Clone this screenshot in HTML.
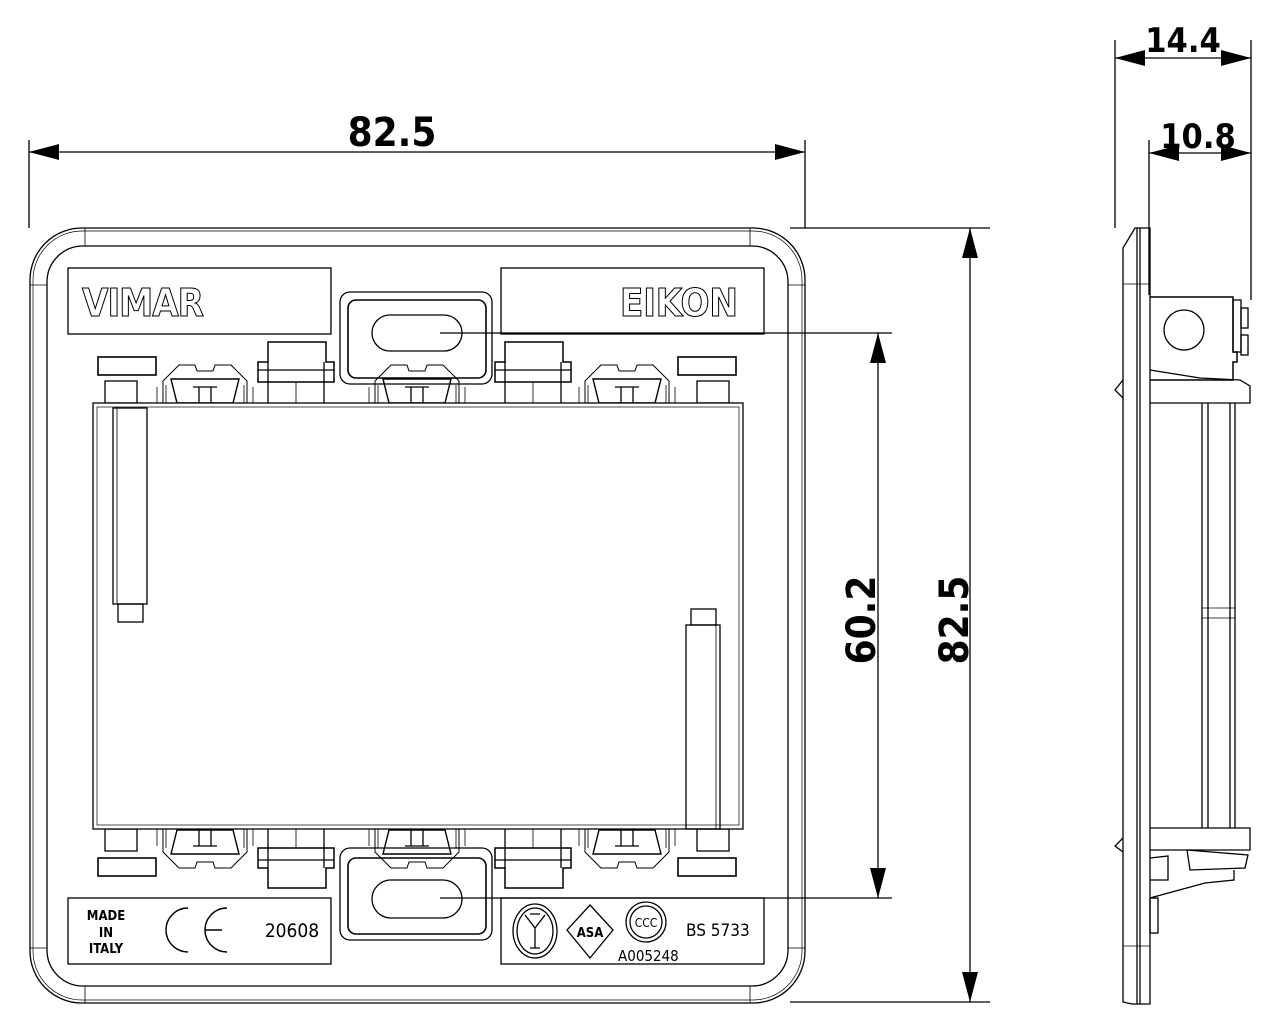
<!DOCTYPE html>
<html><head><meta charset="utf-8"><style>
html,body{margin:0;padding:0;background:#fff;}
svg{display:block;}
text{font-family:"DejaVu Sans Condensed","Liberation Sans",sans-serif;}
</style></head><body>
<svg width="1280" height="1024" viewBox="0 0 1280 1024" xmlns="http://www.w3.org/2000/svg" fill="none" stroke="#000" stroke-width="1.3">
<defs>
<path id="arr" d="M0 0 L30 -8 L30 8 Z" fill="#000" stroke="none"/>
<g id="clip">
 <path d="M0 24 L16 8 L32 8 L34 14 L50 14 L52 8 L68 8 L84 24 L84 48 L0 48 Z" stroke-width="1"/>
 <path d="M8 22 L76 22 L70 46 L14 46 Z" stroke-width="1.4"/>
 <line x1="30" y1="30" x2="54" y2="30"/><line x1="36" y1="30" x2="36" y2="46"/><line x1="48" y1="30" x2="48" y2="46"/>
 <line x1="3" y1="28" x2="3" y2="48" stroke-width="0.8"/><line x1="81" y1="28" x2="81" y2="48" stroke-width="0.8"/>
 <line x1="-6" y1="30" x2="-6" y2="48" stroke-width="0.8"/><line x1="90" y1="30" x2="90" y2="48" stroke-width="0.8"/>
</g>
<g id="blk">
 <path d="M10 0 L68 0 L68 20 L76 20 L76 40 L0 40 L0 20 L10 20 Z" stroke-width="1.5"/>
 <line x1="0" y1="28" x2="76" y2="28"/><line x1="10" y1="20" x2="10" y2="40"/><line x1="66" y1="20" x2="66" y2="40"/>
 <line x1="10" y1="40" x2="10" y2="62"/><line x1="66" y1="40" x2="66" y2="62"/><line x1="38" y1="40" x2="38" y2="62" stroke-width="0.8"/>
</g>
</defs>

<g fill="#000" stroke="none" font-weight="bold" text-anchor="middle" font-size="40">
<text x="392" y="146">82.5</text>
<text transform="translate(968 620) rotate(-90)">82.5</text>
<text transform="translate(875 620) rotate(-90)">60.2</text>
<text x="1183" y="52" font-size="34">14.4</text>
<text x="1198" y="148" font-size="34">10.8</text>
</g>

<!-- dimension 82.5 top -->
<line x1="29" y1="140" x2="29" y2="228"/><line x1="805" y1="140" x2="805" y2="228"/>
<line x1="29" y1="152" x2="805" y2="152"/>
<use href="#arr" x="29" y="152"/><use href="#arr" transform="translate(805 152) rotate(180)"/>

<!-- 82.5 right -->
<line x1="790" y1="228" x2="990" y2="228"/><line x1="790" y1="1002" x2="990" y2="1002"/>
<line x1="970" y1="228" x2="970" y2="1002"/>
<use href="#arr" transform="translate(970 228) rotate(90)"/><use href="#arr" transform="translate(970 1002) rotate(-90)"/>

<!-- 60.2 -->
<line x1="440" y1="333" x2="892" y2="333"/><line x1="440" y1="898" x2="892" y2="898"/>
<line x1="878" y1="333" x2="878" y2="898"/>
<use href="#arr" transform="translate(878 333) rotate(90)"/><use href="#arr" transform="translate(878 898) rotate(-90)"/>

<!-- plate -->
<rect x="30" y="228" width="775" height="775" rx="52"/>
<rect x="33" y="231" width="769" height="769" rx="49" stroke-width="0.7"/>
<rect x="47" y="246" width="741" height="740" rx="36"/>
<line x1="85" y1="228" x2="85" y2="246" stroke-width="0.8"/><line x1="750" y1="228" x2="750" y2="246" stroke-width="0.8"/>
<line x1="85" y1="986" x2="85" y2="1003" stroke-width="0.8"/><line x1="750" y1="986" x2="750" y2="1003" stroke-width="0.8"/>
<line x1="30" y1="285" x2="47" y2="285" stroke-width="0.8"/><line x1="788" y1="285" x2="805" y2="285" stroke-width="0.8"/>
<line x1="30" y1="948" x2="47" y2="948" stroke-width="0.8"/><line x1="788" y1="948" x2="805" y2="948" stroke-width="0.8"/>

<!-- label boxes -->
<rect x="68" y="268" width="263" height="66"/>
<rect x="501" y="268" width="263" height="66"/>
<rect x="68" y="898" width="263" height="66"/>
<rect x="501" y="898" width="263" height="66"/>
<text x="82" y="316" font-size="38" fill="#fff" stroke="#000" stroke-width="1" font-family="Liberation Sans" font-weight="bold" textLength="122">VIMAR</text>
<text x="620" y="316" font-size="38" fill="#fff" stroke="#000" stroke-width="1" font-family="Liberation Sans" font-weight="bold" textLength="118">EIKON</text>

<!-- bottom-left label -->
<g fill="#000" stroke="none" font-family="Liberation Sans" text-anchor="middle" font-size="13" font-weight="bold">
<text x="106" y="920">MADE</text><text x="106" y="937">IN</text><text x="106" y="953">ITALY</text>
</g>
<path d="M188 908 A22 22 0 0 0 188 952" stroke-width="1.4"/>
<path d="M227 908 A22 22 0 0 0 227 952 M205 930 L222 930" stroke-width="1.4"/>
<text x="292" y="937" font-size="19" fill="#000" stroke="none" font-family="Liberation Sans" text-anchor="middle">20608</text>
<!-- bottom-right label -->
<ellipse cx="535" cy="931" rx="22" ry="27"/><ellipse cx="535" cy="931" rx="18" ry="23"/>
<path d="M525 915 L535 928 L545 915 M535 928 L535 948 M530 948 L540 948 M530 914 L540 914"/>
<polygon points="590,905 613,930 590,958 567,930"/>
<text x="590" y="937" font-size="13" fill="#000" stroke="none" font-family="Liberation Sans" text-anchor="middle" font-weight="bold">ASA</text>
<circle cx="646" cy="922" r="20"/><circle cx="646" cy="922" r="16"/>
<text x="646" y="927" font-size="12" fill="#000" stroke="none" font-family="Liberation Sans" text-anchor="middle">CCC</text>
<text x="686" y="936" font-size="17" fill="#000" stroke="none" font-family="Liberation Sans">BS 5733</text>
<text x="618" y="961" font-size="15" fill="#000" stroke="none" font-family="Liberation Sans">A005248</text>

<!-- tabs -->
<rect x="340" y="292" width="152" height="92" rx="10"/>
<rect x="348" y="300" width="138" height="78" rx="8" stroke-width="1.6"/>
<rect x="372" y="315" width="90" height="36" rx="18"/>
<rect x="340" y="848" width="152" height="92" rx="10"/>
<rect x="348" y="858" width="138" height="76" rx="8" stroke-width="1.6"/>
<rect x="372" y="880" width="90" height="38" rx="19"/>

<!-- small side tabs -->
<rect x="98" y="357" width="58" height="18" stroke-width="1.6"/>
<rect x="678" y="357" width="58" height="18" stroke-width="1.6"/>
<rect x="98" y="858" width="58" height="18" stroke-width="1.6"/>
<rect x="678" y="858" width="58" height="18" stroke-width="1.6"/>
<rect x="105" y="381" width="32" height="22"/><rect x="697" y="381" width="32" height="22"/>
<rect x="105" y="829" width="32" height="22"/><rect x="697" y="829" width="32" height="22"/>

<!-- clips top -->
<use href="#clip" x="163" y="357"/><use href="#clip" x="375" y="357"/><use href="#clip" x="585" y="357"/>
<use href="#blk" x="258" y="342"/><use href="#blk" x="495" y="342"/>
<g transform="translate(0 1233) scale(1 -1)">
<use href="#clip" x="163" y="357"/><use href="#clip" x="375" y="357"/><use href="#clip" x="585" y="357"/>
</g>
<g transform="translate(0 1230) scale(1 -1)">
<use href="#blk" x="258" y="342"/><use href="#blk" x="495" y="342"/>
</g>

<!-- main frame -->
<rect x="93" y="403" width="650" height="426" fill="#fff"/>
<rect x="97" y="407" width="642" height="418" stroke-width="0.7"/>
<rect x="113" y="408" width="34" height="196"/><line x1="117" y1="408" x2="117" y2="604" stroke-width="0.8"/>
<rect x="118" y="604" width="25" height="18"/>
<rect x="686" y="625" width="34" height="204"/><line x1="716" y1="625" x2="716" y2="829" stroke-width="0.8"/>
<rect x="691" y="609" width="25" height="16"/>

<!-- side view dims -->
<line x1="1115" y1="40" x2="1115" y2="228"/><line x1="1251" y1="40" x2="1251" y2="300"/>
<line x1="1149" y1="140" x2="1149" y2="295"/>
<line x1="1115" y1="58" x2="1251" y2="58"/>
<use href="#arr" x="1115" y="58"/><use href="#arr" transform="translate(1251 58) rotate(180)"/>
<line x1="1149" y1="153" x2="1251" y2="153"/>
<use href="#arr" x="1149" y="153"/><use href="#arr" transform="translate(1251 153) rotate(180)"/>

<!-- side view body -->
<path d="M1150 228 L1135 228 L1123 248 L1123 1002 L1132 1004 L1150 1004 Z"/>
<line x1="1137" y1="228" x2="1137" y2="1004"/><line x1="1140" y1="228" x2="1140" y2="1004"/>
<line x1="1123" y1="284" x2="1150" y2="284" stroke-width="0.8"/><line x1="1123" y1="946" x2="1150" y2="946" stroke-width="0.8"/>
<path d="M1123 380 L1115 390 L1123 398"/><path d="M1123 838 L1115 846 L1123 852"/>
<path d="M1150 297 L1233 297 L1233 352 L1237 352 L1237 362 L1233 362 L1233 380 L1150 380" stroke-width="1.5"/>
<circle cx="1184" cy="330" r="20"/>
<rect x="1233" y="300" width="8" height="52"/><rect x="1241" y="308" width="7" height="20"/><rect x="1241" y="335" width="7" height="20"/>
<path d="M1150 370 L1200 378 L1240 380 L1250 386 L1250 403 L1150 403"/>
<line x1="1202" y1="403" x2="1202" y2="828"/><line x1="1208" y1="403" x2="1208" y2="828"/>
<line x1="1230" y1="403" x2="1230" y2="828"/><line x1="1235" y1="403" x2="1235" y2="828"/>
<line x1="1202" y1="608" x2="1235" y2="608" stroke-width="0.8"/><line x1="1202" y1="618" x2="1235" y2="618" stroke-width="0.8"/>
<path d="M1150 828 L1250 828 L1250 850 L1150 850"/>
<path d="M1187 850 L1248 855 L1245 868 L1190 870 Z" stroke-width="1.3"/>
<path d="M1234 870 L1234 880 L1205 883 L1150 898"/>
<rect x="1150" y="898" width="8" height="35"/>
<path d="M1150 858 L1168 856 L1168 880 L1150 880"/>
</svg>
</body></html>
